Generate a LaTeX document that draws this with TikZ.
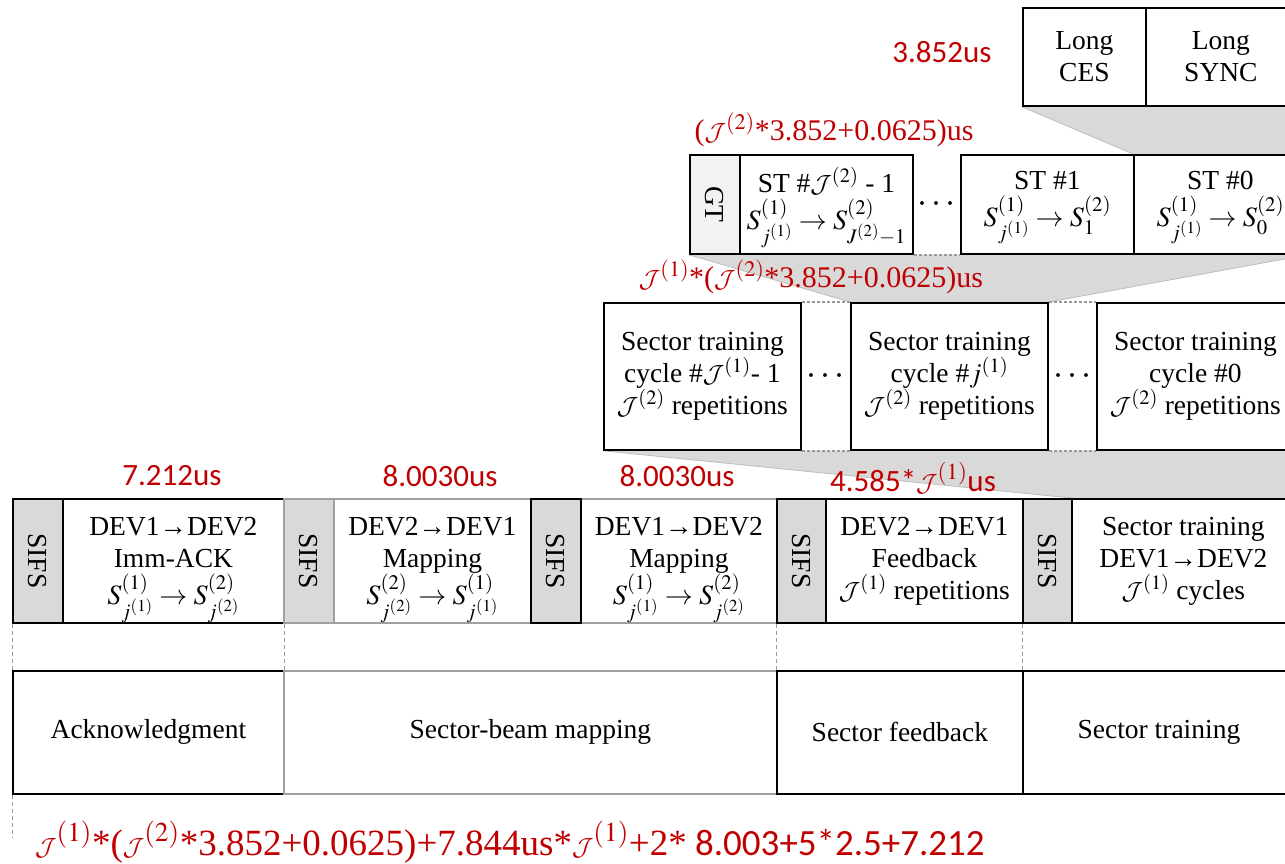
\documentclass[tikz,border=0pt]{standalone}
\usepackage{mathptmx}
\usepackage{fontspec}
\setmainfont{Liberation Serif}
\newfontfamily\calib{Carlito}
\DeclareSymbolFont{cmsyx}{OMS}{cmsy}{m}{n}
\DeclareSymbolFontAlphabet{\cmcal}{cmsyx}
\usetikzlibrary{calc,backgrounds}
\definecolor{rd}{HTML}{C00000}
\definecolor{sifsgray}{HTML}{D9D9D9}
\definecolor{gtgray}{HTML}{F2F2F2}
\definecolor{edgegray}{HTML}{A0A0A0}
\definecolor{wedgeedge}{HTML}{BDBDBD}
\newcommand\JJ[1]{$\cmcal{J}^{(#1)}$}
\newcommand\mathline[2][28]{{\fontsize{#1}{32}\selectfont\smash{$#2$}}}
\newcommand\pushup{\rule[-12pt]{0pt}{12pt}}
\begin{document}
\begin{tikzpicture}[x=1pt,y=-1pt,
  box/.style={draw=black, line width=1.8pt, fill=white, anchor=north west, inner sep=0pt, align=center, font=\rmfamily\fontsize{27.5}{32}\selectfont},
  gbox/.style={box, draw=edgegray},
  sifs/.style={box, fill=sifsgray, label={[rotate=-90, font=\rmfamily\fontsize{27.5}{32}\selectfont]center:SIFS}},
  gsifs/.style={sifs, draw=edgegray},
  lbl/.style={text=rd, font=\calib\fontsize{31}{36}\selectfont, inner sep=0pt},
  slbl/.style={text=rd, font=\rmfamily\fontsize{30}{36}\selectfont, inner sep=0pt},
  wedge/.style={fill=sifsgray},
  wedgeline/.style={draw=wedgeedge, line width=0.8pt},
  dotl/.style={draw=gray!80, line width=1.4pt, dash pattern=on 3pt off 2pt},
  vdash/.style={draw=gray!80, line width=1pt, dash pattern=on 4pt off 3pt},
  dots/.style={font=\fontsize{36}{36}\selectfont, inner sep=0pt},
]
\useasboundingbox (0,0) rectangle (1285,864);
\clip (0,0) rectangle (1285,864);

% ---- top row: preamble
\node[box, minimum width=123pt, minimum height=98pt] (ces) at (1022,7) {Long\\CES};
\node[box, minimum width=150pt, minimum height=98pt] (sync) at (1145,7) {Long\\SYNC};
\node[lbl] (l1) at (942,52) {3.852us};

% ---- sector training row
\node[box, fill=gtgray, minimum width=50pt, minimum height=99pt, label={[rotate=-90, font=\rmfamily\fontsize{27.5}{32}\selectfont]center:GT}] (gt) at (689,154) {};
\node[box, minimum width=173pt, minimum height=99pt] (stJ) at (739,154) {ST \#\JJ{2} - 1\\[5pt] \mathline{S^{(1)}_{j^{(1)}}\rightarrow S^{(2)}_{J^{(2)}-1}}\pushup};
\node[box, minimum width=173pt, minimum height=99pt] (st1) at (960,154) {ST \#1\\[5pt] \mathline{S^{(1)}_{j^{(1)}}\rightarrow S^{(2)}_{1}}\pushup};
\node[box, minimum width=173pt, minimum height=99pt] (st0) at (1133,154) {ST \#0\\[5pt] \mathline{S^{(1)}_{j^{(1)}}\rightarrow S^{(2)}_{0}}\pushup};
\node[dots] (d1) at ($(stJ.east)!0.5!(st1.west)$) {$\cdots$};
\node[slbl] (l2) at (834,130) {(\JJ{2}*3.852+0.0625)us};
\draw[dotl] (stJ.south east) -- (st1.south west);

% ---- cycles row
\node[box, minimum width=197pt, minimum height=147pt] (cycL) at (603,302) {Sector training\\cycle \#\JJ{1}- 1\\\JJ{2} repetitions};
\node[box, minimum width=197pt, minimum height=147pt] (cycj) at (850,302) {Sector training\\cycle \#$j^{(1)}$\\\JJ{2} repetitions};
\node[box, minimum width=197pt, minimum height=147pt] (cyc0) at (1096,302) {Sector training\\cycle \#0\\\JJ{2} repetitions};
\node[dots] (d2) at ($(cycL.east)!0.5!(cycj.west)$) {$\cdots$};
\node[dots] (d3) at ($(cycj.east)!0.5!(cyc0.west)$) {$\cdots$};
\node[slbl] (l3) at (811,277) {\JJ{1}*(\JJ{2}*3.852+0.0625)us};
\draw[dotl] (cycL.north east) -- (cycj.north west);
\draw[dotl] (cycL.south east) -- (cycj.south west);
\draw[dotl] (cycj.north east) -- (cyc0.north west);
\draw[dotl] (cycj.south east) -- (cyc0.south west);

% ---- frame row
\node[sifs, minimum width=50pt, minimum height=124pt] (s1) at (12,498) {};
\node[box, minimum width=221pt, minimum height=124pt] (ack) at (62,498) {DEV1→DEV2\\Imm-ACK\\[5pt]\mathline{S^{(1)}_{j^{(1)}}\rightarrow S^{(2)}_{j^{(2)}}}};
\node[gsifs, minimum width=50pt, minimum height=124pt] (s2) at (283,498) {};
\node[gbox, minimum width=197pt, minimum height=124pt] (map1) at (333,498) {DEV2→DEV1\\Mapping\\[5pt]\mathline{S^{(2)}_{j^{(2)}}\rightarrow S^{(1)}_{j^{(1)}}}};
\node[gbox, minimum width=196pt, minimum height=124pt] (map2) at (580,498) {DEV1→DEV2\\Mapping\\[5pt]\mathline{S^{(1)}_{j^{(1)}}\rightarrow S^{(2)}_{j^{(2)}}}};
\node[sifs, minimum width=50pt, minimum height=124pt] (s3) at (530,498) {};
\node[sifs, minimum width=49pt, minimum height=124pt] (s4) at (776,498) {};
\node[box, minimum width=197pt, minimum height=124pt] (fb) at (825,498) {DEV2→DEV1\\Feedback\\\JJ{1} repetitions};
\node[sifs, minimum width=49pt, minimum height=124pt] (s5) at (1022,498) {};
\node[box, minimum width=223pt, minimum height=124pt] (strain) at (1071,498) {Sector training\\DEV1→DEV2\\\JJ{1} cycles};
\node[lbl] (l4) at (172,476) {7.212us};
\node[lbl] (l5) at (440,476) {8.0030us};
\node[lbl] (l6) at (677,476) {8.0030us};
\node[lbl] (l7) at (913,478) {4.585*{\rmfamily\JJ{1}}us};

% ---- phase row
\node[box, minimum width=271pt, minimum height=123pt] (p1) at (12,670) {Acknowledgment};
\node[gbox, minimum width=493pt, minimum height=123pt] (p2) at (283,670) {Sector-beam mapping};
\node[box, minimum width=246pt, minimum height=123pt] (p3) at (776,670) {Sector feedback};
\node[box, minimum width=272pt, minimum height=123pt] (p4) at (1022,670) {Sector training};

\draw[vdash] (s1.south west) -- (p1.north west);
\draw[vdash] (ack.south east) -- (p1.north east);
\draw[vdash] (s4.south west) -- (p3.north west);
\draw[vdash] (s5.south west) -- (p4.north west);
\coordinate (vend) at (12,838);
\draw[vdash] (p1.south west) -- (vend);

\node[slbl, anchor=west, font=\rmfamily\fontsize{37}{38}\selectfont] (sum) at (35,842) {\JJ{1}*(\JJ{2}*3.852+0.0625)+7.844us*\JJ{1}+2*{\calib\ 8.003+5*2.5+7.212}};

% ---- zoom wedges
\begin{scope}[on background layer]
\fill[wedge] (ces.south west) -- (sync.south east) -- (st0.north east) -- (st0.north west) -- cycle;
\draw[wedgeline] (ces.south west) -- (st0.north west);
\fill[wedge] (gt.south west) -- (st0.south east) -- (cycj.north east) -- (cycj.north west) -- cycle;
\draw[wedgeline] (gt.south west) -- (cycj.north west);
\draw[wedgeline] (st0.south east) -- (cycj.north east);
\fill[wedge] (cycL.south west) -- (cyc0.south east) -- (strain.north east) -- (strain.north west) -- cycle;
\draw[wedgeline] (cycL.south west) -- (strain.north west);
\end{scope}
\end{tikzpicture}
\end{document}
